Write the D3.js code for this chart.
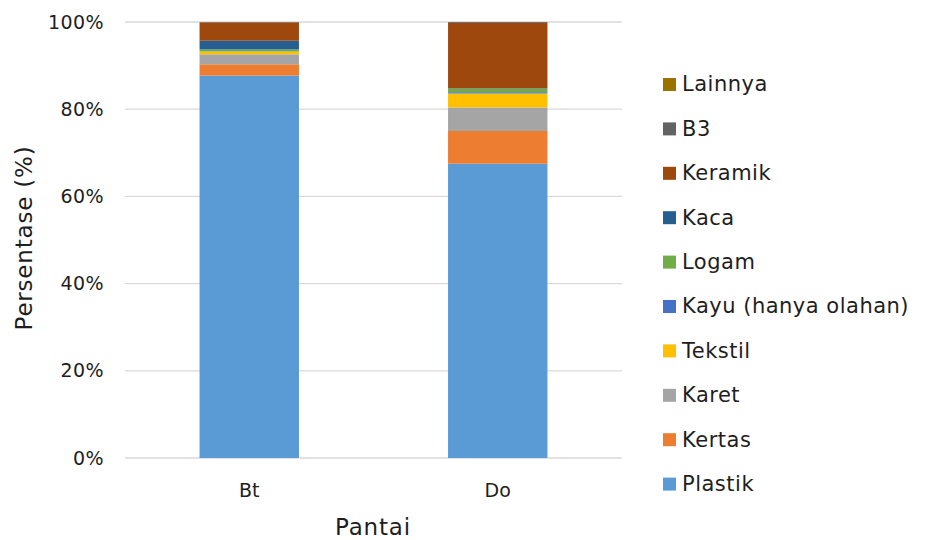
<!DOCTYPE html>
<html>
<head>
<meta charset="utf-8">
<script src="https://cdn.jsdelivr.net/npm/d3@7"></script>
<style>
  body { margin: 0; background: #fff; }
  text { font-family: "DejaVu Sans", sans-serif; fill: #1e1e1e; }
</style>
</head>
<body>
<div id="chart"></div>
<script>
const width = 928;
const height = 540;

const beaches = ["Bt", "Do"];
const categories = ["Plastik", "Kertas", "Karet", "Tekstil", "Kayu (hanya olahan)", "Logam", "Kaca", "Keramik", "B3", "Lainnya"];
const colors = ["#5B9BD5", "#ED7D31", "#A5A5A5", "#FFC000", "#4472C4", "#70AD47", "#255E91", "#9E480E", "#636363", "#997300"];

// persentase per kategori (urutan sama dengan categories)
const btValues = [87.7, 2.6, 2.3, 0.6, 0.05, 0.45, 2.0, 4.2, 0.1, 0.0];
const doValues = [67.5, 7.5, 5.4, 3.2, 0.3, 0.8, 0.1, 15.0, 0.2, 0.0];
const yTicks = [0, 20, 40, 60, 80, 100];

const rows = beaches.map((b, i) => {
  const vals = i === 0 ? btValues : doValues;
  const row = { beach: b };
  categories.forEach((c, j) => row[c] = vals[j]);
  return row;
});

const x0 = 125, x1 = 622, yTop = 22, yBot = 458;

const svg = d3.select("#chart").append("svg")
  .attr("width", width)
  .attr("height", height);

const x = d3.scaleBand().domain(beaches).range([x0, x1]).paddingInner(0.6).paddingOuter(0.3);
const y = d3.scaleLinear().domain([0, 100]).range([yBot, yTop]);
const color = d3.scaleOrdinal().domain(categories).range(colors);

// Grid
svg.append("g")
  .selectAll("line")
  .data(yTicks)
  .enter()
  .append("line")
  .attr("x1", x0)
  .attr("x2", x1)
  .attr("y1", d => y(d))
  .attr("y2", d => y(d))
  .attr("stroke", "#d9d9d9")
  .attr("stroke-width", 1.3);

// Y tick labels
svg.append("g")
  .selectAll("text")
  .data(yTicks)
  .enter()
  .append("text")
  .attr("x", 104)
  .attr("y", d => y(d))
  .attr("dy", "0.35em")
  .attr("text-anchor", "end")
  .style("font-size", "19px")
  .style("letter-spacing", "0.4px")
  .text(d => d + "%");

// Stacked bars
const stack = d3.stack().keys(categories);
const series = stack(rows);

svg.append("g")
  .selectAll("g")
  .data(series)
  .enter()
  .append("g")
  .attr("fill", d => color(d.key))
  .selectAll("rect")
  .data(d => d)
  .enter()
  .append("rect")
  .attr("x", d => x(d.data.beach))
  .attr("width", x.bandwidth())
  .attr("y", d => y(d[1]))
  .attr("height", d => y(d[0]) - y(d[1]));

// X labels
svg.append("g")
  .selectAll("text")
  .data(beaches)
  .enter()
  .append("text")
  .attr("x", d => x(d) + x.bandwidth() / 2)
  .attr("y", 497)
  .attr("text-anchor", "middle")
  .style("font-size", "19px")
  .text(d => d);

// Axis titles
svg.append("text")
  .attr("x", 373)
  .attr("y", 535)
  .attr("text-anchor", "middle")
  .style("font-size", "23px")
  .style("letter-spacing", "0.8px")
  .text("Pantai");

svg.append("text")
  .attr("transform", "translate(32, 238) rotate(-90)")
  .attr("text-anchor", "middle")
  .style("font-size", "23px")
  .style("letter-spacing", "0.8px")
  .text("Persentase (%)");

// Legend
const legendItems = categories.slice().reverse();
const legend = svg.append("g").attr("transform", "translate(663, 84)");

legendItems.forEach((c, i) => {
  const g = legend.append("g").attr("transform", `translate(0, ${i * 44.4})`);
  g.append("rect")
    .attr("x", 0)
    .attr("y", -6)
    .attr("width", 13)
    .attr("height", 13)
    .attr("fill", color(c));
  g.append("text")
    .attr("x", 19)
    .attr("y", 0)
    .attr("dy", "0.35em")
    .style("font-size", "21px")
    .style("letter-spacing", "0.5px")
    .text(c);
});
</script>
</body>
</html>
